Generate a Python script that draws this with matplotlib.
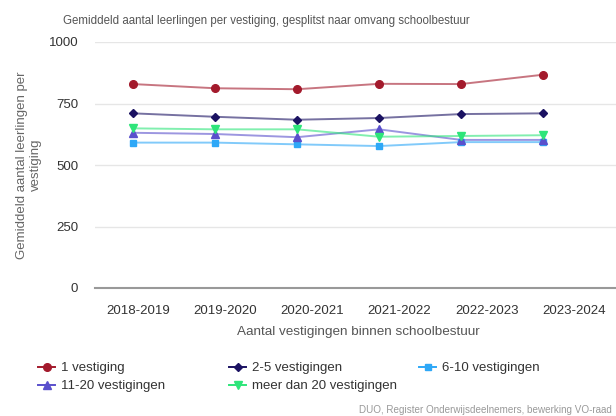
import matplotlib
matplotlib.use('Agg')
import matplotlib.pyplot as plt
import numpy as np

plt.rcParams['font.family'] = ['Liberation Sans', 'DejaVu Sans']

# schooljaren
jaren = ['2018-2019', '2019-2020', '2020-2021', '2021-2022', '2022-2023', '2023-2024']

# gemiddeld aantal leerlingen per vestiging, per omvang schoolbestuur
een_vestiging = [829, 812, 808, 830, 829, 867]
twee_tot_vijf = [710, 696, 684, 691, 707, 710]
zes_tot_tien = [591, 591, 584, 577, 593, 593]
elf_tot_twintig = [631, 626, 613, 645, 602, 602]
meer_dan_twintig = [649, 645, 645, 615, 618, 621]

reeksen = [
    ('1 vestiging', een_vestiging, '#a31a2c', 'o', 5.5),
    ('2-5 vestigingen', twee_tot_vijf, '#1b1262', 'D', 4.2),
    ('6-10 vestigingen', zes_tot_tien, '#2ea8f7', 's', 5),
    ('11-20 vestigingen', elf_tot_twintig, '#5a50cc', '^', 5.5),
    ('meer dan 20 vestigingen', meer_dan_twintig, '#2ee57a', 'v', 5.5),
]

fig = plt.figure(figsize=(6.16, 4.16), dpi=100)
ax = fig.add_axes([95/616, 1 - 288/416, 1 - 95/616, (288 - 42)/416])

x = np.arange(len(jaren))
lijnen = []
for naam, waarden, kleur, marker, ms in reeksen:
    ax.plot(x, waarden, color=kleur, lw=1.4, alpha=0.6, zorder=2)
    ax.plot(x, waarden, color=kleur, lw=0, marker=marker, ms=ms, zorder=3)
    h, = ax.plot([], [], color=kleur, lw=1.4, marker=marker, ms=ms, label=naam)
    lijnen.append(h)

ax.set_xlim(-38/82, 483/82)
ax.set_ylim(0, 1000)
ax.set_yticks([0, 250, 500, 750, 1000])
ax.set_xticks(0.061 + x * 87.2/82)
ax.set_xticklabels(jaren)
ax.tick_params(axis='both', length=0, labelsize=9.5, colors='#333333')
ax.tick_params(axis='y', pad=12)
ax.tick_params(axis='x', pad=12)
ax.grid(axis='y', color='#e6e6e6', lw=1)
ax.set_axisbelow(True)
for s in ['top', 'right', 'left']:
    ax.spines[s].set_visible(False)
ax.spines['bottom'].set_color('#999999')
ax.spines['bottom'].set_linewidth(1.5)

fig.text(266/616, 1 - 21/416, 'Gemiddeld aantal leerlingen per vestiging, gesplitst naar omvang schoolbestuur',
         ha='center', va='center', fontsize=8.3, color='#555555')
fig.text(29/616, 1 - 165/416, 'Gemiddeld aantal leerlingen per\nvestiging', rotation=90,
         ha='center', va='center', multialignment='center', fontsize=9.5, color='#666666')
fig.text(358/616, 1 - 332/416, 'Aantal vestigingen binnen schoolbestuur',
         ha='center', va='center', fontsize=9.7, color='#555555')
fig.text(612/616, 1 - 410/416, 'DUO, Register Onderwijsdeelnemers, bewerking VO-raad',
         ha='right', va='center', fontsize=7.1, color='#999999')

# legenda in drie kolommen
for c, links in enumerate([38, 229, 419]):
    leg = fig.legend(handles=lijnen[c::3], loc='upper left',
                     bbox_to_anchor=(links/616, 1 - 362/416), frameon=False,
                     fontsize=9.5, handlelength=1.3, handletextpad=0.45,
                     borderpad=0, borderaxespad=0, labelspacing=0.45)
    for t in leg.get_texts():
        t.set_color('#333333')

fig.savefig('out.png', dpi=100)
